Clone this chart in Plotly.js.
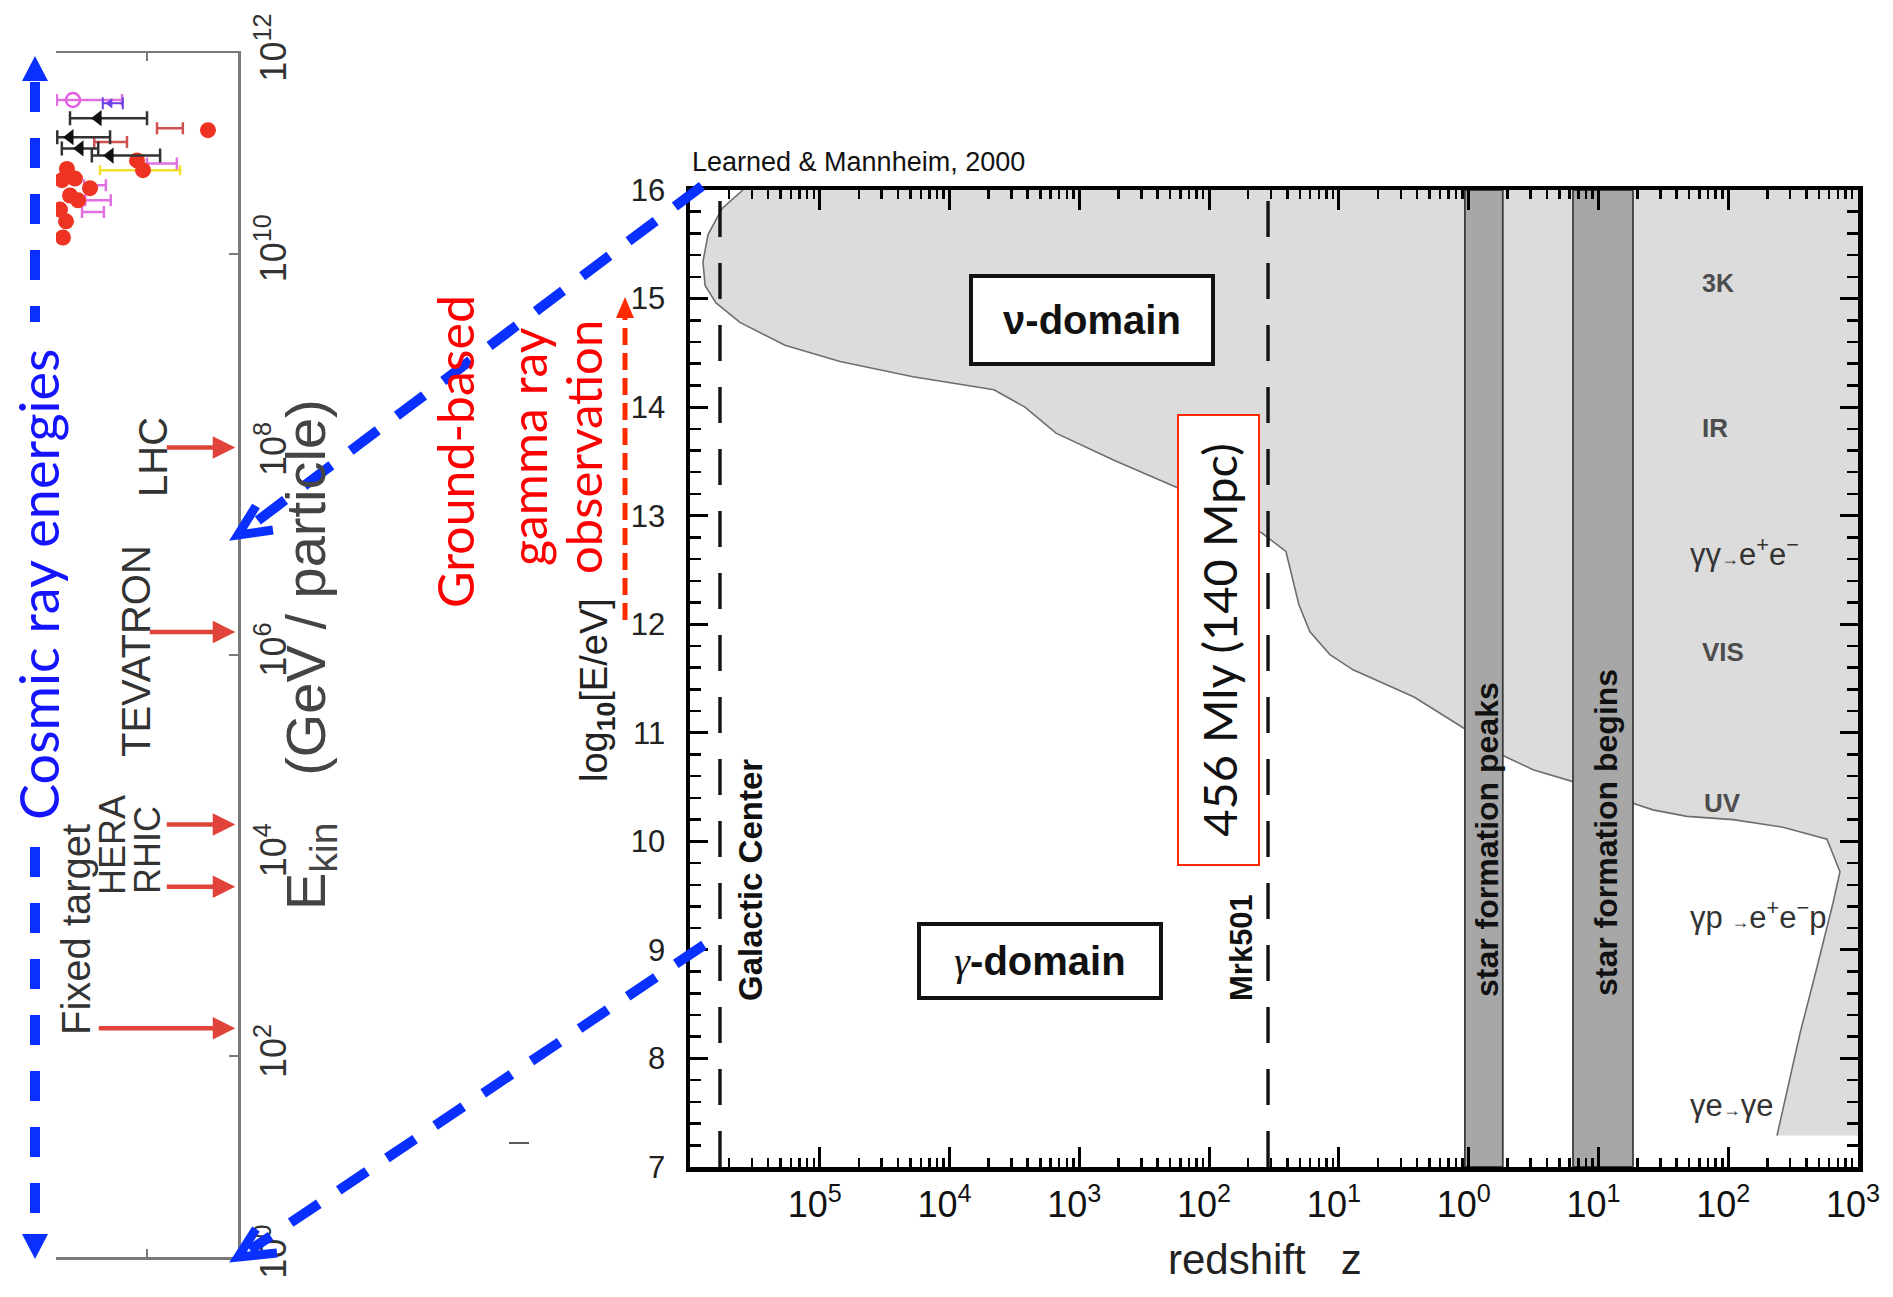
<!DOCTYPE html>
<html><head><meta charset="utf-8">
<script src="https://cdn.plot.ly/plotly-3.0.1.min.js"></script>
<style>html,body{margin:0;padding:0;background:#fff;} #chart{width:1893px;height:1297px;}</style>
</head><body><div id="chart"></div>
<script>
// ================= DATA =================
// Main panel: x axis in "decade" units (0 = left edge ... 9 = right edge, 10^3)
const xTickVals = [1, 2, 3, 4, 5, 6, 7, 8, 9];
const xTickText = ['10<sup>5</sup>', '10<sup>4</sup>', '10<sup>3</sup>', '10<sup>2</sup>', '10<sup>1</sup>',
                   '10<sup>0</sup>', '10<sup>1</sup>', '10<sup>2</sup>', '10<sup>3</sup>'];
// boundary between nu-domain (shaded) and gamma-domain
const boundaryX = [0.408, 0.247, 0.139, 0.100, 0.116, 0.200, 0.385, 0.732, 1.156, 1.718, 2.342, 2.581, 2.820,
                   3.267, 3.752, 4.084, 4.407, 4.592, 4.646, 4.692, 4.777, 4.931, 5.109, 5.579, 5.979, 6.264,
                   6.496, 6.804, 7.266, 7.420, 7.682, 8.037, 8.422, 8.761, 8.861, 8.807, 8.684, 8.553, 8.376];
const boundaryY = [16.00, 15.83, 15.59, 15.34, 15.12, 14.96, 14.78, 14.57, 14.42, 14.28, 14.16, 14.00, 13.76,
                   13.51, 13.26, 13.05, 12.84, 12.67, 12.41, 12.18, 11.93, 11.72, 11.58, 11.33, 11.03, 10.79,
                   10.66, 10.55, 10.35, 10.29, 10.23, 10.20, 10.13, 10.02, 9.72, 9.43, 8.84, 8.23, 7.29];
const bandStart = [5.971, 6.804];
const bandEnd = [6.263, 7.266];
const bandLabels = ['star formation peaks', 'star formation begins'];
const refLineX = [0.231, 4.454];
const refLineLabels = ['Galactic Center', 'Mrk501'];

// Left panel (rotated cosmic-ray spectrum), energy in GeV / particle
const leftTickVals = [1, 1e2, 1e4, 1e6, 1e8, 1e10, 1e12];
const leftTickText = ['10<sup>0</sup>', '10<sup>2</sup>', '10<sup>4</sup>', '10<sup>6</sup>', '10<sup>8</sup>', '10<sup>10</sup>', '10<sup>12</sup>'];
const machines = ['LHC', 'TEVATRON', 'HERA', 'RHIC', 'Fixed target'];
const machineEnergy = [1.17e8, 1.7e6, 2.04e4, 4.9e3, 1.9e2];
const machineArrowLen = [70, 87, 70, 70, 138];

const redX = [8.35, 4.45, 4.78, 1.87, 0.33, 1.04, 0.77, 1.21, 0.22, 0.55, 0.38, 0.6];
const redE = [1.7e11, 8.5e10, 6.8e10, 4.5e10, 5.4e10, 5.6e10, 3.8e10, 3.4e10, 2.75e10, 2.1e10, 1.45e10, 7.0e10];
const blackX = [2.31, 0.77, 1.32, 2.97];
const blackE = [2.24e11, 1.45e11, 1.12e11, 9.5e10];
const blackErrPlus = [2.69, 2.2, 1.0, 2.75];
const blackErrMinus = [1.54, 0.7, 1.0, 1.0];
const magX = [0.93];
const magE = [3.4e11];
const magErrPlus = [2.7];
const magErrMinus = [0.88];
const purpleX = [2.97];
const purpleE = [3.16e11];
const redBarX = [6.26, 3.0];
const redBarE = [1.78e11, 1.3e11];
const redBarErr = [0.71, 0.9];
const pinkBarX = [5.82, 2.14, 2.31, 2.03];
const pinkBarE = [7.9e10, 4.8e10, 3.4e10, 2.6e10];
const pinkBarErr = [0.82, 0.6, 0.7, 0.6];
const yellowX = [4.62];
const yellowE = [6.8e10];
const yellowErr = [2.2];

// ================= HELPERS =================
const W = 1893, H = 1297;
const px = X => X / W;
const py = Y => 1 - Y / H;
const Y_MIN = 7, Y_MAX = 16, X_MAX = 9;
const BLUE = '#0a30ff';
const RED = '#ff2a00';
const SANS = 'Liberation Sans, Arial, sans-serif';

const xMinor = [];
for (let n = 0; n < 9; n++) for (let k = 2; k <= 9; k++) xMinor.push(n + Math.log10(k));

// ================= TRACES =================
const traces = [];
traces.push({
  x: boundaryX.concat([X_MAX, X_MAX]),
  y: boundaryY.concat([boundaryY[boundaryY.length - 1], Y_MAX]),
  fill: 'toself', fillcolor: '#dcdcdc', mode: 'lines', line: {width: 0}, hoverinfo: 'skip'
});
traces.push({x: boundaryX, y: boundaryY, mode: 'lines', line: {color: '#6e6e6e', width: 1.6}});
for (let i = 0; i < bandStart.length; i++) {
  traces.push({
    x: [bandStart[i], bandEnd[i], bandEnd[i], bandStart[i], bandStart[i]],
    y: [Y_MIN, Y_MIN, Y_MAX, Y_MAX, Y_MIN],
    fill: 'toself', fillcolor: '#a7a7a7', mode: 'lines', line: {color: '#3c3c3c', width: 1.8}
  });
}
for (let i = 0; i < refLineX.length; i++) {
  traces.push({x: [refLineX[i], refLineX[i]], y: [Y_MIN, Y_MAX], mode: 'lines',
    line: {color: '#111', width: 3.4, dash: '36px,26px'}});
}

// left panel traces
const L = {xaxis: 'x2', yaxis: 'y2'};
traces.push(Object.assign({x: yellowX, y: yellowE, mode: 'markers', marker: {size: 1, color: 'rgba(0,0,0,0)'},
  error_x: {type: 'data', array: yellowErr, color: '#f0e030', thickness: 2.5, width: 5}}, L));
traces.push(Object.assign({x: pinkBarX, y: pinkBarE, mode: 'markers', marker: {size: 1, color: 'rgba(0,0,0,0)'},
  error_x: {type: 'data', array: pinkBarErr, color: '#e070e0', thickness: 2.5, width: 6}}, L));
traces.push(Object.assign({x: redBarX, y: redBarE, mode: 'markers', marker: {size: 1, color: 'rgba(0,0,0,0)'},
  error_x: {type: 'data', array: redBarErr, color: '#d05050', thickness: 2.5, width: 6}}, L));
traces.push(Object.assign({x: magX, y: magE, mode: 'markers', marker: {symbol: 'circle-open', size: 14, color: '#e060e0', line: {width: 2.5}},
  error_x: {type: 'data', symmetric: false, array: magErrPlus, arrayminus: magErrMinus, color: '#e070e0', thickness: 2.5, width: 6}}, L));
traces.push(Object.assign({x: purpleX, y: purpleE, mode: 'markers', marker: {symbol: 'triangle-left', size: 9, color: '#6a40e8'},
  error_x: {type: 'data', symmetric: false, array: [0.7], arrayminus: [0.4], color: '#6a40e8', thickness: 2, width: 6}}, L));
traces.push(Object.assign({x: redX, y: redE, mode: 'markers', marker: {symbol: 'circle', size: 16, color: '#ee3322'}}, L));
traces.push(Object.assign({x: blackX, y: blackE, mode: 'markers', marker: {symbol: 'triangle-left', size: 14, color: '#111'},
  error_x: {type: 'data', symmetric: false, array: blackErrPlus, arrayminus: blackErrMinus, color: '#333', thickness: 2.5, width: 7}}, L));

// ================= ANNOTATIONS =================
const ann = [];
function txt(X, Y, text, size, opts) {
  return Object.assign({xref: 'paper', yref: 'paper', x: px(X), y: py(Y), text: text, showarrow: false,
    xanchor: 'center', yanchor: 'middle', font: {family: SANS, size: size, color: '#111'}}, opts || {});
}
ann.push(txt(690, 162, 'Learned &amp; Mannheim, 2000', 27, {xanchor: 'left'}));
ann.push(txt(1092, 320, '<b>ν-domain</b>', 40, {bgcolor: '#fff', bordercolor: '#111', borderwidth: 4, borderpad: 0, width: 238, height: 84}));
ann.push(txt(1040, 961, '<span style="font-family:\'Liberation Serif\'"><i>γ</i></span><b>-domain</b>', 40,
  {bgcolor: '#fff', bordercolor: '#111', borderwidth: 4, borderpad: 0, width: 238, height: 70}));
ann.push(txt(750, 880, '<b>' + refLineLabels[0] + '</b>', 33, {textangle: -90}));
ann.push(txt(1241, 948, '<b>' + refLineLabels[1] + '</b>', 31, {textangle: -90}));
ann.push(txt(1487, 840, '<b>' + bandLabels[0] + '</b>', 32, {textangle: -90}));
ann.push(txt(1606, 833, '<b>' + bandLabels[1] + '</b>', 32, {textangle: -90}));
ann.push(txt(1218, 640, '456 Mly (140 Mpc)', 47, {textangle: -90, font: {family: 'Lato', size: 47, color: '#111'},
  bgcolor: '#fff', bordercolor: RED, borderwidth: 2, borderpad: 0, width: 448, height: 79}));
// right-hand labels
const gray = '#4d4d4d';
ann.push(txt(1700, 283, '<b>3K</b>', 25, {xanchor: 'left', font: {family: SANS, size: 25, color: gray}}));
ann.push(txt(1700, 428, '<b>IR</b>', 26, {xanchor: 'left', font: {family: SANS, size: 26, color: gray}}));
ann.push(txt(1688, 552, 'γγ<span style="font-size:18px">→</span>e<sup>+</sup>e<sup>−</sup>', 31, {xanchor: 'left', font: {family: SANS, size: 31, color: '#333'}}));
ann.push(txt(1700, 652, '<b>VIS</b>', 26, {xanchor: 'left', font: {family: SANS, size: 26, color: gray}}));
ann.push(txt(1702, 803, '<b>UV</b>', 26, {xanchor: 'left', font: {family: SANS, size: 26, color: gray}}));
ann.push(txt(1688, 915, 'γp <span style="font-size:18px">→</span>e<sup>+</sup>e<sup>−</sup>p', 31, {xanchor: 'left', font: {family: SANS, size: 31, color: '#333'}}));
ann.push(txt(1688, 1105, 'γe<span style="font-size:18px">→</span>γe', 31, {xanchor: 'left', font: {family: SANS, size: 31, color: '#333'}}));
// axis titles
ann.push(txt(1265, 1259, 'redshift\u00a0\u00a0\u00a0z', 42, {font: {family: SANS, size: 42, color: '#222'}}));
ann.push(txt(597, 690, 'log<sub><b>10</b></sub>[E/eV]', 38, {textangle: -90, font: {family: SANS, size: 38, color: '#222'}}));
// slide annotations
ann.push(txt(38, 585, 'Cosmic ray energies', 54, {textangle: -90, font: {family: 'Lato', size: 54, color: '#1414ff'}}));
ann.push(txt(455, 452, 'Ground-based', 50, {textangle: -90, font: {family: 'Lato', size: 50, color: '#ff0000'}}));
ann.push(txt(528, 447, 'gamma ray', 50, {textangle: -90, font: {family: 'Lato', size: 50, color: '#ff0000'}}));
ann.push(txt(583, 447, 'observation', 49, {textangle: -90, font: {family: 'Lato', size: 49, color: '#ff0000'}}));
// left panel labels
ann.push(txt(309, 655, 'E<sub>kin</sub>\u00a0\u00a0\u00a0(GeV / particle)', 56, {textangle: -90, font: {family: SANS, size: 56, color: '#444'}}));
const machinePos = [[153, 457, 40], [136, 651, 40], [112, 845, 36], [147, 850, 36], [76, 930, 40]];
for (let i = 0; i < machines.length; i++) {
  const p = machinePos[i];
  ann.push(txt(p[0], p[1], machines[i], p[2], {textangle: -90, font: {family: SANS, size: p[2], color: '#333'}}));
  ann.push({xref: 'x2', yref: 'y2', x: 9.85, y: Math.log10(machineEnergy[i]), text: '', showarrow: true,
    ax: -machineArrowLen[i], ay: 0, arrowcolor: '#e0433a', arrowwidth: 4.5, arrowhead: 2, arrowsize: 1, standoff: 0});
}

// ================= SHAPES =================
const shapes = [];
function line(X0, Y0, X1, Y1, color, width, dash) {
  return {type: 'line', xref: 'paper', yref: 'paper', x0: px(X0), y0: py(Y0), x1: px(X1), y1: py(Y1),
    line: {color: color, width: width, dash: dash || 'solid'}};
}
function path(pts, close, color, width, fill) {
  let d = pts.map((p, i) => (i ? 'L' : 'M') + px(p[0]) + ',' + py(p[1])).join(' ');
  if (close) d += ' Z';
  return {type: 'path', xref: 'paper', yref: 'paper', path: d,
    line: {color: color, width: width}, fillcolor: fill || 'rgba(0,0,0,0)'};
}
shapes.push(line(35, 82, 35, 322, BLUE, 10, '30px,26px'));
shapes.push(line(35, 847, 35, 1234, BLUE, 10, '30px,26px'));
shapes.push(path([[22, 81], [35, 56], [48, 81]], true, BLUE, 0, BLUE));
shapes.push(path([[22, 1234], [35, 1259], [48, 1234]], true, BLUE, 0, BLUE));
shapes.push(line(702, 186, 248, 528, BLUE, 10, '34px,24px'));
shapes.push(path([[256, 506], [238, 535], [273, 530]], false, BLUE, 9));
shapes.push(line(704, 945, 250, 1250, BLUE, 10, '34px,24px'));
shapes.push(path([[256, 1229], [238, 1257], [277, 1253]], false, BLUE, 9));
shapes.push(line(625, 620, 625, 316, RED, 5, '17px,8px'));
shapes.push(path([[616, 318], [625, 297], [634, 318]], true, RED, 0, RED));
shapes.push(line(509, 1143, 529, 1143, '#222', 1.5));

// ================= LAYOUT =================
const layout = {
  width: W, height: H, autosize: false, showlegend: false,
  margin: {l: 0, r: 0, t: 0, b: 0}, paper_bgcolor: '#fff', plot_bgcolor: 'rgba(0,0,0,0)',
  font: {family: SANS, color: '#111'},
  xaxis: {domain: [px(690), px(1858)], range: [0, X_MAX], anchor: 'y',
    tickmode: 'array', tickvals: xTickVals, ticktext: xTickText.map(t => t + '\u00a0'), ticks: 'inside', ticklen: 20, tickwidth: 3, tickcolor: '#000',
    minor: {tickmode: 'array', tickvals: xMinor, ticks: 'inside', ticklen: 9, tickwidth: 2.5, tickcolor: '#000'},
    showline: true, linewidth: 4.5, linecolor: '#000', mirror: 'ticks', showgrid: false, zeroline: false,
    tickfont: {family: SANS, size: 36, color: '#111'}, ticklabelstandoff: 2, ticklabeloverflow: 'allow'},
  yaxis: {domain: [py(1167), py(190)], range: [Y_MIN, Y_MAX], anchor: 'x',
    tick0: 7, dtick: 1, ticks: 'inside', ticklen: 18, tickwidth: 3, tickcolor: '#000',
    minor: {dtick: 0.2, ticks: 'inside', ticklen: 11, tickwidth: 2.5, tickcolor: '#000'},
    showline: true, linewidth: 4.5, linecolor: '#000', mirror: 'ticks', showgrid: false, zeroline: false,
    tickfont: {family: SANS, size: 31, color: '#222'}, ticklabelstandoff: 14},
  xaxis2: {domain: [px(56), px(238)], range: [0, 10], anchor: 'y2',
    tickmode: 'array', tickvals: [5], ticks: 'inside', ticklen: 8, tickwidth: 2, tickcolor: '#7a7a7a', showticklabels: false,
    showline: true, linewidth: 2.5, linecolor: '#7a7a7a', mirror: 'ticks', showgrid: false, zeroline: false},
  yaxis2: {domain: [py(1257), py(53)], type: 'log', range: [0, 12], anchor: 'x2', side: 'right',
    tickmode: 'array', tickvals: leftTickVals, ticktext: leftTickText, ticks: '', tickangle: -90,
    minor: {tickmode: 'array', tickvals: [1e2, 1e6, 1e10], ticks: 'inside', ticklen: 9, tickwidth: 2, tickcolor: '#7a7a7a'},
    showline: true, linewidth: 2.5, linecolor: '#7a7a7a', showgrid: false, zeroline: false,
    tickfont: {family: SANS, size: 36, color: '#333'}, ticklabelstandoff: 2, ticklabeloverflow: 'allow'},
  annotations: ann,
  shapes: shapes
};

Plotly.newPlot('chart', traces, layout, {displayModeBar: false, staticPlot: true});
</script>
</body></html>
